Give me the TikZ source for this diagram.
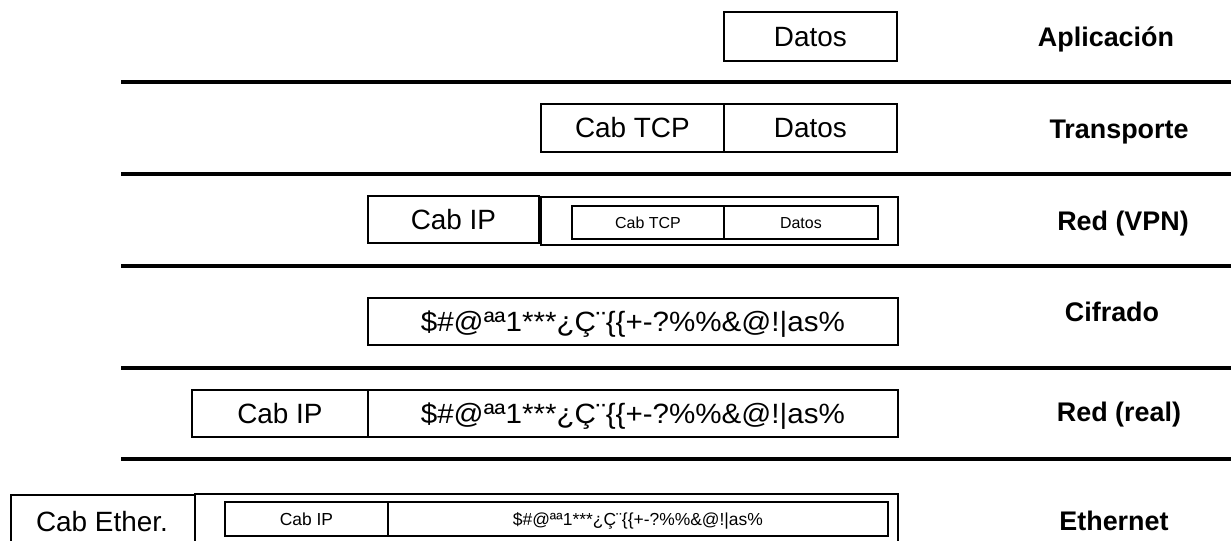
\documentclass[tikz,border=0pt]{standalone}
\usepackage{fontspec}
\setmainfont{Liberation Sans}
\newcommand{\garbled}{\$\#@ªª1***¿Ç¨\{\{+-?\%\%\&@!|as\%}
\begin{document}
\begin{tikzpicture}[x=1bp,y=-1bp,
  box/.style={draw, line width=1.8bp, rectangle, inner sep=0pt, anchor=north west,
    font=\fontsize{28}{31}\selectfont, text height=20bp, text depth=0bp},
  smallbox/.style={box, font=\fontsize{16}{18}\selectfont, text height=11.5bp},
  ethbox/.style={box, font=\fontsize{17.5}{19}\selectfont, text height=12.5bp},
  layer/.style={anchor=base, inner sep=0pt, font=\bfseries\fontsize{27}{30}\selectfont},
  sep/.style={line width=3.4bp}]
\useasboundingbox (0,0) rectangle (1231,541);
\clip (0,0) rectangle (1231,541);

% layer separators
\coordinate (s1a) at (121,82);  \coordinate (s1b) at (1231,82);
\coordinate (s2a) at (121,174); \coordinate (s2b) at (1231,174);
\coordinate (s3a) at (121,266); \coordinate (s3b) at (1231,266);
\coordinate (s4a) at (121,368); \coordinate (s4b) at (1231,368);
\coordinate (s5a) at (121,459); \coordinate (s5b) at (1231,459);
\foreach \s in {s1,s2,s3,s4,s5} \draw[sep] (\s a) -- (\s b);

% application
\node[box, minimum width=173bp, minimum height=49bp] (appdata) at (723,11) {Datos};

% transport
\node[box, minimum width=183bp, minimum height=48bp] (tcphdr) at (540,103) {Cab TCP};
\node[box, minimum width=173bp, minimum height=48bp] (tcpdata) at (723,103) {Datos};

% network (VPN)
\node[box, minimum width=171bp, minimum height=47bp] (vpnip) at (367,195) {Cab IP};
\node[box, minimum width=357bp, minimum height=48bp] (vpnpay) at (540,196) {};
\node[smallbox, minimum width=152bp, minimum height=33bp] (vpntcp) at (571,205) {Cab TCP};
\node[smallbox, minimum width=154bp, minimum height=33bp] (vpndata) at (723,205) {Datos};

% encryption
\node[box, minimum width=530bp, minimum height=47bp] (cipher) at (367,297) {\scalebox{1.06}[1]{\garbled}};

% network (real)
\node[box, minimum width=176bp, minimum height=47bp] (realip) at (191,389) {Cab IP};
\node[box, minimum width=530bp, minimum height=47bp] (realpay) at (367,389) {\scalebox{1.06}[1]{\garbled}};

% ethernet
\node[box, minimum width=184bp, minimum height=55bp] (ethhdr) at (10,494) {};
\node[font=\fontsize{28}{31}\selectfont, anchor=base, inner sep=0pt] (ethtxt) at (102,531) {Cab Ether.};
\node[box, minimum width=703bp, minimum height=55bp] (ethpay) at (194,493) {};
\node[ethbox, minimum width=163bp, minimum height=34bp] (ethip) at (224,501) {Cab IP};
\node[ethbox, minimum width=500bp, minimum height=34bp] (ethdata) at (387,501) {\garbled};

% layer names
\node[layer] (lapp) at (1106,47) {Aplicación};
\node[layer] (ltrans) at (1119,139) {Transporte};
\node[layer] (lvpn) at (1123,231) {Red (VPN)};
\node[layer] (lcif) at (1112,322) {Cifrado};
\node[layer] (lreal) at (1119,421) {Red (real)};
\node[layer] (leth) at (1114,530) {Ethernet};
\end{tikzpicture}
\end{document}
